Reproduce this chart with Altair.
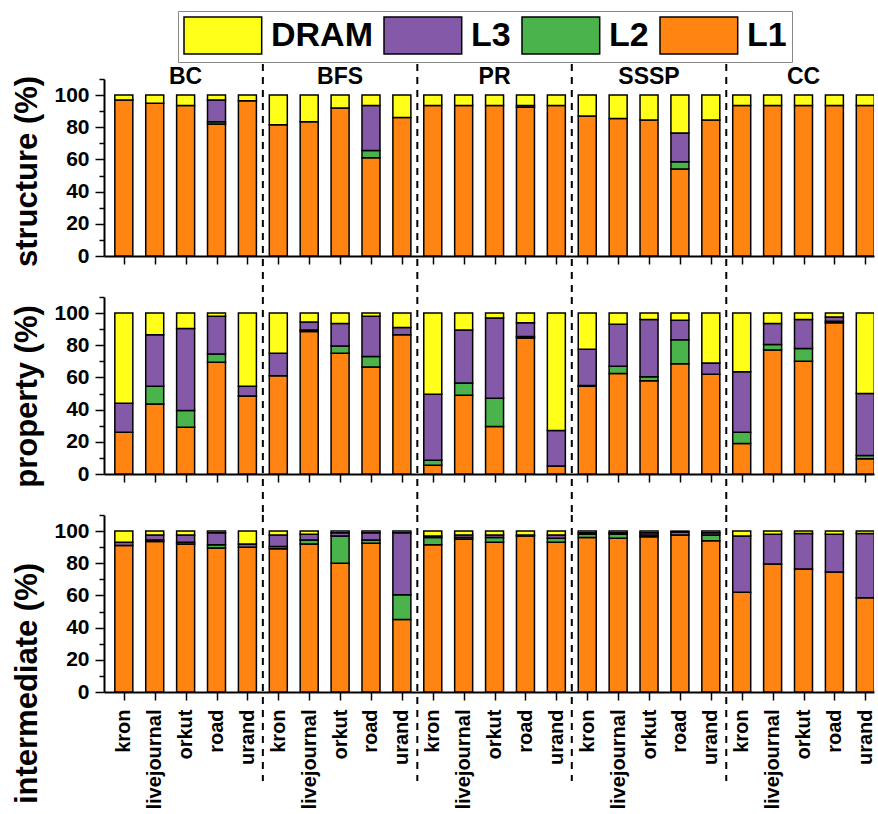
import altair as alt
import pandas as pd

FONT = "Liberation Sans"

algorithms = ["BC", "BFS", "PR", "SSSP", "CC"]
graphs = ["kron", "livejournal", "orkut", "road", "urand"]
levels = ["L1", "L2", "L3", "DRAM"]          # stacking order, bottom to top
legend_order = ["DRAM", "L3", "L2", "L1"]
legend_colors = ["#FFFF1A", "#845AA8", "#4BB34B", "#FF8412"]

# share of accesses served by each level (%), 5 graphs per algorithm
structure_l1 = [97, 95, 93.5, 82, 96.5, 81.5, 83.5, 92, 61, 86, 93.5, 93.5, 93.5, 92.5, 93.5,
                87, 85.5, 84.5, 54, 84.5, 93.5, 93.5, 93.5, 93.5, 93.5]
structure_l2 = [0, 0, 0, 1.5, 0, 0, 0, 0, 4.5, 0, 0, 0, 0, 0, 0,
                0, 0, 0, 4.5, 0, 0, 0, 0, 0, 0]
structure_l3 = [0, 0, 0, 13.5, 0, 0, 0, 0, 28, 0, 0, 0, 0, 1, 0,
                0, 0, 0, 18, 0, 0, 0, 0, 0, 0]
structure_dram = [3, 5, 6.5, 3, 3.5, 18.5, 16.5, 8, 6.5, 14, 6.5, 6.5, 6.5, 6.5, 6.5,
                  13, 14.5, 15.5, 23.5, 15.5, 6.5, 6.5, 6.5, 6.5, 6.5]

property_l1 = [26, 43.5, 29, 69.5, 48.5, 61, 88.5, 75, 66.5, 86.5, 5.5, 49, 29.5, 84.5, 5,
               54.5, 62.5, 58, 68.5, 62, 19, 77, 70, 94, 9.5]
property_l2 = [0, 11, 10.5, 5, 0, 0, 1, 4.5, 6.5, 0, 3, 7.5, 17.5, 1, 0,
               0.5, 4.5, 2.5, 15, 0, 7, 3.5, 8, 1, 2]
property_l3 = [18, 32, 51, 23.5, 6, 14, 5, 14, 25, 4.5, 41, 33, 50, 8.5, 22,
               22.5, 26, 35.5, 12, 7, 37.5, 13, 18, 2.5, 38.5]
property_dram = [56, 13.5, 9.5, 2, 45.5, 25, 5.5, 6.5, 2, 9, 50.5, 10.5, 3, 6, 73,
                 22.5, 7, 4, 4.5, 31, 36.5, 6.5, 4, 2.5, 50]

intermediate_l1 = [91, 93.5, 92, 89.5, 90, 89, 92, 80, 92.5, 45, 91.5, 95, 93, 97, 93,
                   96, 95.5, 96.5, 97.5, 94, 62, 79.5, 76.5, 74.5, 58.5]
intermediate_l2 = [0, 1, 1, 2, 0, 1.5, 2.5, 17, 2, 15.5, 4.5, 1, 3, 0, 2.5,
                   2, 2.5, 1, 0, 3.5, 0, 0, 0, 0, 0]
intermediate_l3 = [2, 3, 4.5, 7.5, 2, 7, 3.5, 2, 4.5, 38.5, 1, 1.5, 1.5, 0.5, 2,
                   1, 1, 1.5, 2, 1.5, 35, 18.5, 22, 23.5, 40]
intermediate_dram = [7, 2.5, 2.5, 1, 8, 2.5, 2, 1, 1, 1, 3, 2.5, 2.5, 2.5, 2.5,
                     1, 1, 1, 0.5, 1, 3, 2, 1.5, 2, 1.5]

panels = {
    "structure": [structure_l1, structure_l2, structure_l3, structure_dram],
    "property": [property_l1, property_l2, property_l3, property_dram],
    "intermediate": [intermediate_l1, intermediate_l2, intermediate_l3, intermediate_dram],
}

rows = []
for panel, series in panels.items():
    for rank, (level, values) in enumerate(zip(levels, series)):
        for i, v in enumerate(values):
            rows.append({"panel": panel, "idx": i, "algo": algorithms[i // 5],
                         "graph": graphs[i % 5], "level": level, "rank": rank, "value": v})
df = pd.DataFrame(rows)
df = df[df["value"] > 0]

separators = pd.DataFrame({"pos": [4.5, 9.5, 14.5, 19.5]})
group_titles = pd.DataFrame({"name": algorithms, "center": [2, 7, 12, 17, 22]})

H = 177
X_DOMAIN = [-0.48, 24.12]
graph_expr = "['kron','livejournal','orkut','road','urand'][datum.value % 5]"

# wide rectangular swatch, drawn to the right of the symbol origin
SWATCH = "M-1,-1H3.2V1H-1Z"

color = alt.Color(
    "level:N",
    scale=alt.Scale(domain=legend_order, range=legend_colors),
    legend=alt.Legend(
        title=None, orient="none", legendX=74, legendY=-68, direction="horizontal",
        symbolType=SWATCH, symbolSize=1369,
        symbolStrokeColor="black", symbolStrokeWidth=1.5, symbolOpacity=1,
        labelFont=FONT, labelFontSize=34, labelFontWeight="bold", labelColor="black",
        labelOffset=49, columnPadding=8, padding=5,
        strokeColor="#888888", fillColor="white",
    ),
)


def panel_chart(name, title, show_labels, rule_top, rule_bottom, title_y):
    x_axis = alt.Axis(
        values=list(range(25)), tickSize=8, tickWidth=1.5, tickColor="black",
        domainColor="black", domainWidth=2, grid=False, title=None,
        labels=show_labels, labelExpr=graph_expr, labelAngle=270,
        labelOverlap=False, labelBound=False, labelFlush=False,
        labelFont=FONT, labelFontSize=20, labelFontWeight="bold", labelColor="black",
        labelPadding=9,
    )
    y_axis = alt.Axis(
        values=list(range(0, 111, 10)),
        labelExpr="datum.value % 20 == 0 && datum.value <= 100 ? datum.label : ''",
        tickSize={"condition": {"test": "datum.value % 20 == 0 && datum.value <= 100",
                                "value": 9}, "value": 5},
        tickWidth=1.5, tickColor="black", domainColor="black", domainWidth=2,
        grid=False, labelFont=FONT, labelFontSize=21, labelFontWeight="bold",
        labelColor="black", labelPadding=6, labelOverlap=False,
        title=title, titleFont=FONT, titleFontSize=31, titleFontWeight="bold",
        titleColor="black", titleX=-77, titleY=title_y, titleBaseline="middle",
    )
    x_scale = alt.Scale(domain=X_DOMAIN, nice=False, zero=False)
    y_scale = alt.Scale(domain=[0, 110], nice=False)
    bars = alt.Chart(df[df["panel"] == name]).mark_bar(
        size=18, stroke="black", strokeWidth=1.5, clip=True
    ).encode(
        x=alt.X("idx:Q", scale=x_scale, axis=x_axis),
        y=alt.Y("value:Q", stack="zero", scale=y_scale, axis=y_axis),
        color=color,
        order=alt.Order("rank:Q"),
    )
    seps = alt.Chart(separators).mark_rule(
        color="black", strokeWidth=2, strokeDash=[7, 6]
    ).encode(
        x=alt.X("pos:Q", scale=x_scale, axis=x_axis),
        y=alt.value(-rule_top),
        y2=alt.value(H + rule_bottom),
    )
    layers = [bars, seps]
    if name == "structure":
        layers.append(
            alt.Chart(group_titles).mark_text(
                font=FONT, fontSize=23, fontWeight="bold", color="black",
                baseline="alphabetic", align="center",
            ).encode(x=alt.X("center:Q", scale=x_scale, axis=x_axis),
                     y=alt.Y(datum=107, scale=y_scale, axis=y_axis),
                     text="name:N")
        )
    return alt.layer(*layers).properties(width=770, height=H)


top = panel_chart("structure", "structure (%)", False, 15, 41, 92)
mid = panel_chart("property", "property (%)", False, 0, 41, 99)
bot = panel_chart("intermediate", "intermediate (%)", True, 0, 89, 168)

chart = alt.vconcat(top, mid, bot, spacing=41, bounds="flush").properties(
    padding={"left": 10, "top": 10, "right": 0, "bottom": 2}
).configure_view(stroke=None)

chart.save("out.html", embed_options={"renderer": "svg", "actions": False})
